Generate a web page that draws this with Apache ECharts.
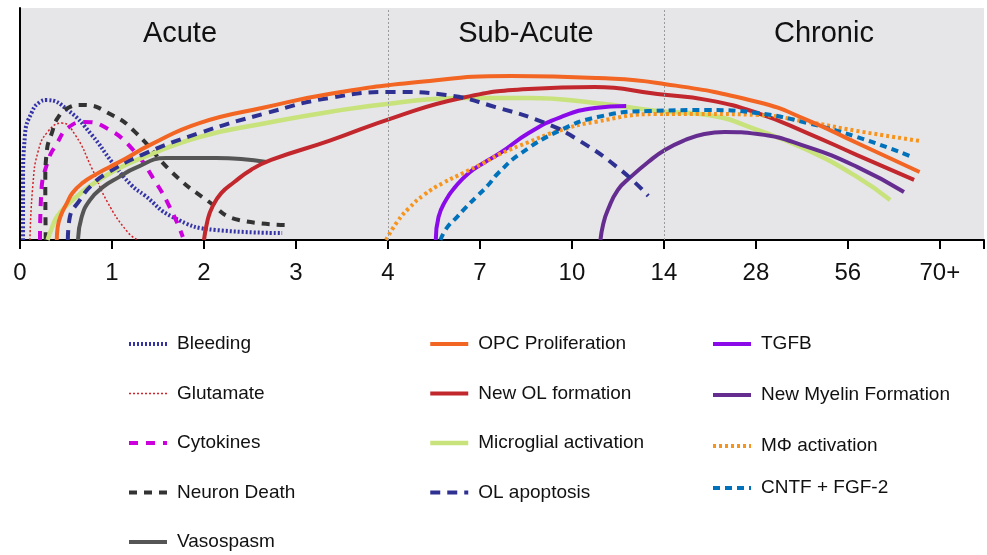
<!DOCTYPE html>
<html>
<head>
<meta charset="utf-8">
<script src="https://cdn.jsdelivr.net/npm/echarts@6/dist/echarts.min.js"></script>
<style>html,body{margin:0;padding:0;background:#fff}#c{width:987px;height:555px}</style>
</head>
<body>
<div id="c"></div>
<script>
// x positions are in axis-tick units (tick i is labelled xTickLabels[i]); y is relative level 0-100
const xTickLabels = ['0','1','2','3','4','7','10','14','28','56','70+'];
const sectionNames = ['Acute','Sub-Acute','Chronic'];
const sectionBounds = [0, 4, 7, 10.48];

const bleeding = [[0.033,0],[0.033,23.7],[0.054,45.3],[0.13,55.2],[0.217,59.5],[0.29,60.3],[0.52,56.0],[0.78,45.3],[1.0,33.6],[1.21,23.7],[1.35,19.4],[1.66,9.9],[2.13,4.3],[2.85,3.0]];
const glutamate = [[0.108,0],[0.14,23.7],[0.195,37.9],[0.30,46.6],[0.455,50.4],[0.60,45.3],[0.78,31.0],[0.95,16.4],[1.17,3.4],[1.28,0]];
const cytokines = [[0.217,0],[0.23,19.4],[0.30,33.6],[0.41,42.2],[0.52,48.3],[0.70,50.9],[0.92,48.7],[1.21,39.7],[1.48,24.6],[1.66,11.6],[1.77,1.3]];
const neuronDeath = [[0.28,0],[0.275,25.0],[0.29,37.9],[0.35,46.6],[0.41,52.6],[0.52,56.9],[0.68,58.2],[1.0,53.9],[1.25,46.6],[1.66,28.9],[2.03,17.2],[2.38,8.6],[2.89,6.5]];
const vasospasm = [[0.63,0],[0.67,9.9],[0.76,17.2],[0.90,22.8],[1.08,27.2],[1.25,31.0],[1.59,35.3],[2.13,35.3],[2.68,33.6]];
const opcProliferation = [[0.40,0],[0.41,5.6],[0.455,11.6],[0.51,15.9],[0.57,20.3],[0.68,24.6],[0.83,28.4],[0.975,31.5],[1.14,34.9],[1.41,40.9],[1.95,50.4],[2.68,57.3],[3.36,62.9],[4.33,68.1],[5.34,70.7],[6.28,69.8],[6.93,67.7],[8.02,59.5],[8.56,51.7],[9.10,41.8],[9.78,29.3]];
const newOLFormation = [[2.00,0],[2.04,8.6],[2.09,14.2],[2.19,20.3],[2.33,25.0],[2.51,30.2],[2.73,34.5],[3.36,42.7],[4.08,53.0],[4.80,61.2],[5.53,65.1],[6.25,65.9],[6.93,62.9],[7.48,60.3],[8.02,54.7],[8.56,46.1],[9.10,36.6],[9.72,25.9]];
const microglial = [[0.30,0],[0.35,5.6],[0.40,9.9],[0.49,14.2],[0.62,18.9],[0.79,24.1],[1.08,31.0],[1.32,35.3],[1.95,44.4],[2.68,50.4],[3.36,55.2],[4.08,59.1],[4.80,61.2],[5.53,61.2],[6.25,59.1],[6.93,55.6],[7.48,53.9],[8.02,47.4],[8.56,38.8],[9.10,27.2],[9.46,17.2]];
const olApoptosis = [[0.52,0],[0.54,9.5],[0.65,17.2],[0.78,23.7],[0.95,28.9],[1.32,36.6],[1.95,46.1],[2.68,54.7],[3.36,61.2],[4.08,63.8],[4.63,62.5],[5.17,57.3],[5.71,50.4],[6.07,43.1],[6.53,30.2],[6.83,19.0]];
const tgfb = [[4.52,0],[4.55,9.9],[4.63,17.2],[4.73,22.8],[4.88,28.9],[5.04,33.2],[5.22,37.5],[5.53,46.1],[5.88,53.0],[6.25,56.9],[6.59,57.8]];
const newMyelin = [[6.31,0],[6.34,6.8],[6.39,12.9],[6.50,21.6],[6.64,27.2],[6.83,33.6],[7.01,38.8],[7.23,43.1],[7.44,45.7],[7.66,46.6],[8.02,45.7],[8.56,40.1],[9.10,31.5],[9.61,20.7]];
const mphiActivation = [[3.98,0],[4.10,7.8],[4.23,13.8],[4.39,19.4],[4.60,24.6],[4.82,28.9],[5.04,33.2],[5.22,37.1],[5.53,42.2],[5.85,47.0],[6.25,50.9],[6.93,54.3],[7.48,54.3],[8.02,53.9],[8.56,50.9],[9.10,47.0],[9.78,42.7]];
const cntfFgf2 = [[4.57,0],[4.64,5.2],[4.75,9.9],[4.85,14.2],[4.96,18.5],[5.09,23.7],[5.20,28.9],[5.45,37.5],[5.88,47.4],[6.28,53.0],[6.83,55.6],[7.48,56.0],[8.02,54.7],[8.56,50.4],[9.10,44.4],[9.70,35.8]];

const FONT = "'Liberation Sans', Arial, Helvetica, sans-serif";

const seriesDefs = [
  {name:'Bleeding', data:bleeding, color:'#3434a6', width:4, type:[2,2], z:3},
  {name:'Glutamate', data:glutamate, color:'#d2232a', width:1.5, type:[2,2], z:3},
  {name:'Cytokines', data:cytokines, color:'#cc00dd', width:4, type:[9,8], z:3},
  {name:'Neuron Death', data:neuronDeath, color:'#333333', width:4, type:[8,7], z:3},
  {name:'Vasospasm', data:vasospasm, color:'#555555', width:4, type:'solid', z:3},
  {name:'OPC Proliferation', data:opcProliferation, color:'#f26522', width:4, type:'solid', z:6},
  {name:'New OL formation', data:newOLFormation, color:'#c1272d', width:4, type:'solid', z:4},
  {name:'Microglial activation', data:microglial, color:'#c8e27c', width:4.5, type:'solid', z:3},
  {name:'OL apoptosis', data:olApoptosis, color:'#2e3192', width:4, type:[10,7], z:5},
  {name:'TGFB', data:tgfb, color:'#8a0aea', width:4, type:'solid', z:4},
  {name:'New Myelin Formation', data:newMyelin, color:'#662d91', width:4, type:'solid', z:4},
  {name:'M\u03a6 activation', data:mphiActivation, color:'#f7941d', width:4, type:[3,3], z:4},
  {name:'CNTF + FGF-2', data:cntfFgf2, color:'#0072bc', width:4, type:[7,5], z:4}
];

const series = seriesDefs.map(d => ({
  name: d.name, type: 'line', data: d.data, smooth: 0.5, symbol: 'none', z: d.z,
  color: d.color,
  lineStyle: {color: d.color, width: d.width, type: d.type, cap: 'butt'},
  emphasis: {disabled: true}, silent: true, animation: false
}));

// section labels and dividers
series.push({
  type: 'line', data: [], silent: true, animation: false,
  markArea: {
    silent: true,
    itemStyle: {color: 'rgba(0,0,0,0)'},
    label: {show: true, position: 'insideTop', distance: 11, fontSize: 29, color: '#111', fontFamily: FONT},
    data: sectionNames.map((n, i) => [
      {name: n, xAxis: sectionBounds[i], label: i === 0 ? {offset: [-24, 0]} : {}},
      {xAxis: sectionBounds[i + 1]}
    ])
  },
  markLine: {
    silent: true, symbol: 'none', label: {show: false},
    lineStyle: {color: '#9a9a9a', type: [2, 2], width: 1},
    data: [{xAxis: sectionBounds[1]}, {xAxis: sectionBounds[2]}]
  }
});

const col1 = ['Bleeding','Glutamate','Cytokines','Neuron Death','Vasospasm'];
const col2 = ['OPC Proliferation','New OL formation','Microglial activation','OL apoptosis'];
const col3 = ['TGFB','New Myelin Formation','M\u03a6 activation','CNTF + FGF-2'];
const col3Tops = [334, 385, 436, 478];

function legend(data, left, top) {
  return {
    data: data, left: left, top: top, orient: 'vertical', padding: 0,
    itemWidth: 38, itemHeight: 10, itemGap: 29.5, selectedMode: false,
    textStyle: {fontSize: 19, color: '#111', fontFamily: FONT, lineHeight: 20, padding: [0,0,0,5]},
    lineStyle: {width: 'inherit', type: 'inherit'},
    itemStyle: {opacity: 0, borderWidth: 0}
  };
}

const legends = [legend(col1, 127, 334), legend(col2, 428, 334)]
  .concat(col3.map((n, i) => legend([n], 711, col3Tops[i])));

const chart = echarts.init(document.getElementById('c'), null, {renderer: 'canvas'});
chart.setOption({
  animation: false,
  backgroundColor: '#ffffff',
  grid: {left: 20, right: 0, top: 8, bottom: 315, show: true, backgroundColor: '#e6e5e7', borderWidth: 0},
  xAxis: {
    type: 'value', min: 0, max: sectionBounds[3], interval: 1,
    splitLine: {show: false},
    axisLine: {show: true, lineStyle: {color: '#000', width: 2}},
    axisTick: {show: true, length: 9, lineStyle: {color: '#000', width: 2}},
    axisLabel: {
      fontSize: 24, color: '#111', fontFamily: FONT, margin: 21,
      formatter: v => (Number.isInteger(v) && v < xTickLabels.length) ? xTickLabels[v] : ''
    }
  },
  yAxis: {
    type: 'value', min: 0, max: 100,
    splitLine: {show: false},
    axisLine: {show: true, lineStyle: {color: '#000', width: 2}},
    axisTick: {show: false}, axisLabel: {show: false}
  },
  legend: legends,
  series: series
});
</script>
</body>
</html>
